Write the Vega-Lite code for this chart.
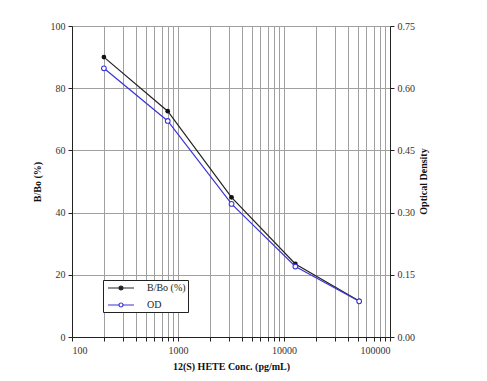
{
  "$schema": "https://vega.github.io/schema/vega-lite/v6.json",
  "autosize": {"type": "none"},
  "padding": {"left": 72, "top": 26, "right": 97, "bottom": 44},
  "width": 318,
  "height": 311,
  "background": "white",
  "config": {
    "view": {"stroke": null},
    "font": "Liberation Serif",
    "legend": {"labelFont": "Liberation Serif"},
    "axis": {
      "labelFont": "Liberation Serif",
      "titleFont": "Liberation Serif",
      "labelFontSize": 10,
      "titleFontSize": 10,
      "titleFontWeight": "bold",
      "labelColor": "#333",
      "titleColor": "#111",
      "domainColor": "#222",
      "tickColor": "#222",
      "gridColor": "#a0a0a0",
      "gridOpacity": 1,
      "tickSize": 4
    }
  },
  "data": {
    "values": [
      {"conc": 200, "bbo": 90.0, "od": 0.648},
      {"conc": 800, "bbo": 72.6, "od": 0.521},
      {"conc": 3200, "bbo": 44.9, "od": 0.321},
      {"conc": 12800, "bbo": 23.5, "od": 0.170},
      {"conc": 51200, "bbo": 11.6, "od": 0.086}
    ]
  },
  "layer": [
    {
      "layer": [
        {
          "mark": {"type": "line", "strokeWidth": 1.2},
          "encoding": {
            "x": {
              "field": "conc", "type": "quantitative",
              "scale": {"type": "log", "domain": [100, 100000], "nice": false},
              "axis": {
                "title": "12(S) HETE Conc. (pg/mL)",
                "values": [100,200,300,400,500,600,700,800,900,1000,2000,3000,4000,5000,6000,7000,8000,9000,10000,20000,30000,40000,50000,60000,70000,80000,90000,100000],
                "format": "d",
                "labelExpr": "indexof(['100','1000','10000','100000'], datum.label) >= 0 ? datum.label : ''",
                "grid": true,
                "labelPadding": 4,
                "titlePadding": 6
              }
            },
            "y": {
              "field": "bbo", "type": "quantitative",
              "scale": {"domain": [0, 100], "nice": false},
              "axis": {
                "title": "B/Bo (%)",
                "orient": "left",
                "values": [0,10,20,30,40,50,60,70,80,90,100],
                "labelExpr": "datum.value % 20 === 0 ? datum.label : ''",
                "grid": true,
                "labelPadding": 3,
                "titlePadding": 8
              }
            },
            "color": {
              "datum": "B/Bo (%)",
              "type": "nominal",
              "scale": {"domain": ["B/Bo (%)", "OD"], "range": ["#222222", "#3b34d8"]},
              "legend": {
                "title": null,
                "orient": "none",
                "legendX": 31,
                "legendY": 254,
                "direction": "vertical",
                "symbolType": "M-2.6,0L-0.4,0M0.4,0L2.6,0M-0.4,0A0.4,0.4,0,1,1,0.4,0A0.4,0.4,0,1,1,-0.4,0Z",
                "symbolSize": 100,
                "symbolOffset": 10,
                "symbolStrokeWidth": 1.2,
                "labelFont": "Liberation Serif",
                "labelFontSize": 10,
                "labelColor": "#222",
                "labelOffset": 20,
                "rowPadding": 6,
                "padding": 2,
                "strokeColor": "#222",
                "fillColor": "white",
                "encode": {
                  "symbols": {"update": {"fill": {"signal": "datum.value === 'OD' ? 'white' : '#222222'"}, "opacity": {"value": 1}}},
                  "labels": {"update": {"font": {"value": "Liberation Serif"}}}
                }
              }
            }
          }
        },
        {
          "mark": {"type": "point", "filled": true, "color": "#111", "size": 22, "opacity": 1},
          "encoding": {
            "x": {"field": "conc", "type": "quantitative", "scale": {"type": "log", "domain": [100, 100000], "nice": false}},
            "y": {"field": "bbo", "type": "quantitative", "scale": {"domain": [0, 100], "nice": false}}
          }
        }
      ]
    },
    {
      "layer": [
        {
          "mark": {"type": "line", "strokeWidth": 1.2},
          "encoding": {
            "x": {"field": "conc", "type": "quantitative", "scale": {"type": "log", "domain": [100, 100000], "nice": false}},
            "y": {
              "field": "od", "type": "quantitative",
              "scale": {"domain": [0, 0.75], "nice": false},
              "axis": {
                "title": "Optical Density",
                "orient": "right",
                "values": [0, 0.075, 0.15, 0.225, 0.3, 0.375, 0.45, 0.525, 0.6, 0.675, 0.75],
                "format": ".2f",
                "labelExpr": "indexof(['0.00','0.15','0.30','0.45','0.60','0.75'], datum.label) >= 0 ? datum.label : ''",
                "grid": false,
                "titleAngle": 270,
                "titleX": 33,
                "titleY": 155,
                "titleAlign": "center",
                "titleBaseline": "middle",
                "labelPadding": 3
              }
            },
            "color": {"datum": "OD", "type": "nominal"}
          }
        },
        {
          "mark": {"type": "point", "filled": true, "fill": "white", "stroke": "#3b34d8", "strokeWidth": 1.1, "size": 22, "opacity": 1},
          "encoding": {
            "x": {"field": "conc", "type": "quantitative", "scale": {"type": "log", "domain": [100, 100000], "nice": false}},
            "y": {"field": "od", "type": "quantitative", "scale": {"domain": [0, 0.75], "nice": false}}
          }
        }
      ]
    }
  ],
  "resolve": {"scale": {"y": "independent"}}
}
